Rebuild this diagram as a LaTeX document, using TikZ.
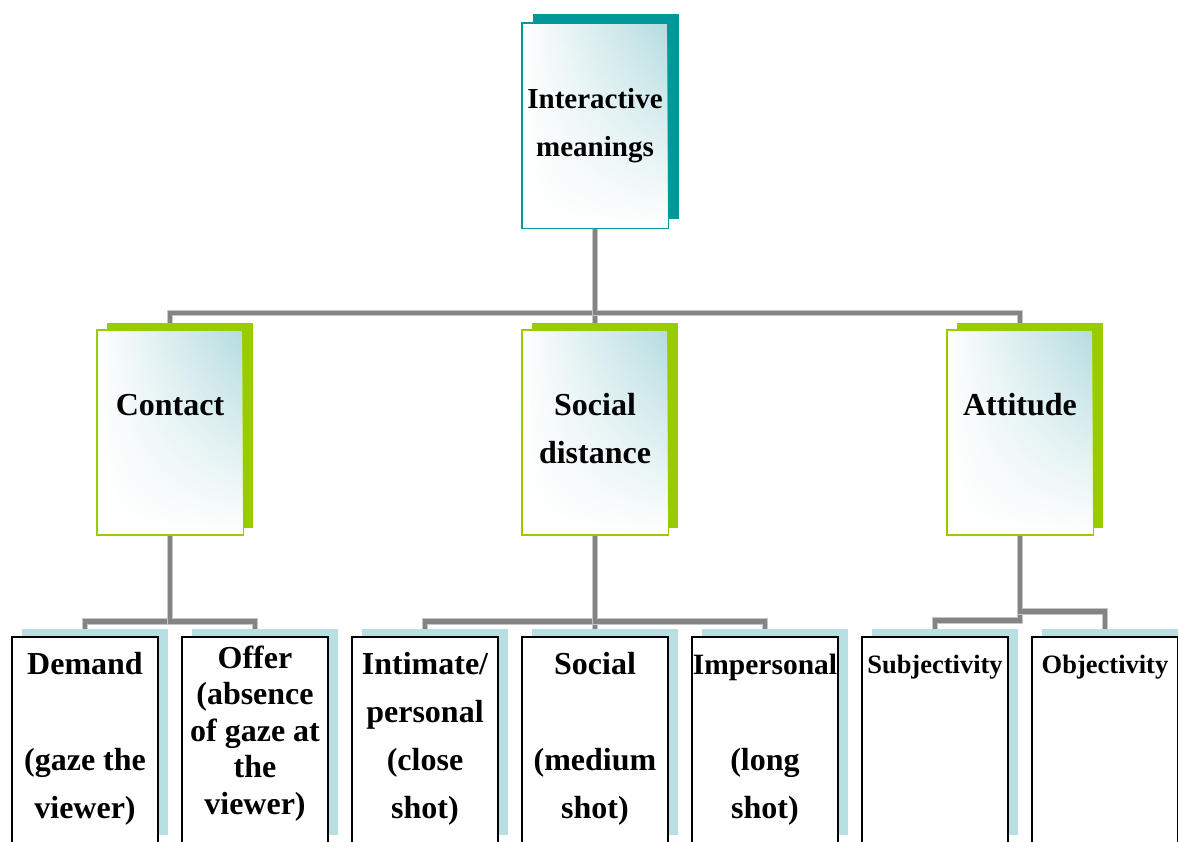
\documentclass[tikz,border=0pt]{standalone}
\usepackage{fontspec}
\setmainfont{Liberation Serif}
\usepackage{tikz}
\usetikzlibrary{positioning}
\usetikzlibrary{shadows}
\usetikzlibrary{fadings}
\usetikzlibrary{backgrounds}

\definecolor{boxteal}{HTML}{009999}
\definecolor{boxgreen}{HTML}{99CC00}
\definecolor{paleteal}{HTML}{B8DFE2}
\definecolor{shadeteal}{HTML}{B4DCDF}
\definecolor{linegray}{HTML}{848484}

\tikzfading[name=fadeup, top color=transparent!100, middle color=transparent!75, bottom color=transparent!0]

\tikzset{
    shadedbox/.style={line width=2pt, minimum width=146pt, minimum height=205pt, inner sep=0pt,
        left color=white, right color=shadeteal},
    headbox/.style={shadedbox, draw=boxteal,
        copy shadow={fill=boxteal, draw=none, shadow xshift=11pt, shadow yshift=9pt}},
    midbox/.style={shadedbox, draw=boxgreen,
        copy shadow={fill=boxgreen, draw=none, shadow xshift=10pt, shadow yshift=7pt}},
    leafbox/.style={draw=black, line width=2pt, fill=white, minimum width=146pt, minimum height=206pt, inner sep=0pt,
        copy shadow={fill=paleteal, draw=none, shadow xshift=10pt, shadow yshift=8pt}},
    lbl/.style={anchor=base, text width=146pt, align=flush center, inner sep=0pt,
        font=\bfseries\fontsize{32}{48}\selectfont},
    link/.style={draw=linegray, line width=4.5pt, preaction={draw=gray!45, line width=6.5pt}}
}

\begin{document}
\begin{tikzpicture}[x=1pt, y=-1pt]
    \useasboundingbox (0,0) rectangle (1178,841);
    \clip (0,0) rectangle (1178,841);

    % top and middle level
    \node[headbox] (im) at (595,125.5) {};
    \node[midbox] (ct) at (170,432) {};
    \node[midbox] (sd) at (595,432) {};
    \node[midbox] (at) at (1020,432) {};
    \foreach \n in {im, ct, sd, at}
        \fill[white, path fading=fadeup] ([shift={(1.5pt,1.5pt)}]\n.south west) rectangle ([shift={(-1.5pt,-1.5pt)}]\n.north east);

    % bottom level
    \node[leafbox] (dem) at (85,740) {};
    \node[leafbox, right=22pt of dem] (off) {};
    \node[leafbox, right=22pt of off] (itm) {};
    \node[leafbox, right=22pt of itm] (soc) {};
    \node[leafbox, right=22pt of soc] (imp) {};
    \node[leafbox, right=22pt of imp] (sub) {};
    \node[leafbox, right=22pt of sub] (obj) {};

    % labels
    \node[lbl, font=\bfseries\fontsize{29}{48}\selectfont] (im-t) at ([yshift=-86pt]im.north) {Interactive\\meanings};
    \node[lbl] (ct-t) at ([yshift=-87pt]ct.north) {Contact};
    \node[lbl] (sd-t) at ([yshift=-87pt]sd.north) {Social\\distance};
    \node[lbl] (at-t) at ([yshift=-87pt]at.north) {Attitude};

    \node[lbl] (dem-t) at ([yshift=-38pt]dem.north) {Demand\\\mbox{}\\(gaze the\\viewer)};
    \node[lbl, font=\bfseries\fontsize{32}{36.5}\selectfont] (off-t) at ([yshift=-32pt]off.north) {Offer\\(absence\\of gaze at\\the\\viewer)};
    \node[lbl] (itm-t) at ([yshift=-38pt]itm.north) {Intimate/\\personal\\(close\\shot)};
    \node[lbl] (soc-t) at ([yshift=-38pt]soc.north) {Social\\\mbox{}\\(medium\\shot)};
    \node[lbl] (imp-t) at ([yshift=-38pt]imp.north) {{\fontsize{29.5}{48}\selectfont Impersonal}\\\mbox{}\\(long\\shot)};
    \node[lbl, font=\bfseries\fontsize{26.5}{48}\selectfont] (sub-t) at ([yshift=-37pt]sub.north) {Subjectivity};
    \node[lbl, font=\bfseries\fontsize{26.5}{48}\selectfont] (obj-t) at ([yshift=-37pt]obj.north) {Objectivity};

    % connectors
    \begin{scope}[on background layer]
        \draw[link] (im.south) -- ++(0,84) -| (ct.north);
        \draw[link] (im.south) -- ++(0,84) -| (sd.north);
        \draw[link] (im.south) -- ++(0,84) -| (at.north);
        \draw[link] (ct.south) -- ++(0,86) -| (dem.north);
        \draw[link] (ct.south) -- ++(0,86) -| (off.north);
        \draw[link] (sd.south) -- ++(0,86) -| (itm.north);
        \draw[link] (sd.south) -- ++(0,86) -| (soc.north);
        \draw[link] (sd.south) -- ++(0,86) -| (imp.north);
        \draw[link] (at.south) -- ++(0,85) -| (sub.north);
        \draw[link] (at.south) -- ++(0,76) -| (obj.north);
    \end{scope}
\end{tikzpicture}
\end{document}
